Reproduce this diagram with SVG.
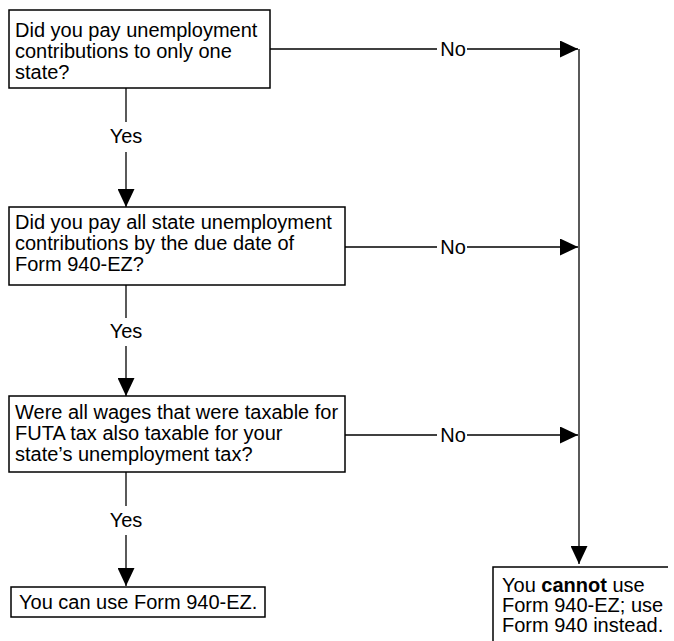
<svg xmlns="http://www.w3.org/2000/svg" width="674" height="641" viewBox="0 0 674 641">
<style>
  .box { fill: #fff; stroke: #000; stroke-width: 1.5; }
  .t { font-family: "Liberation Sans", Arial, sans-serif; font-size: 20px; fill: #000; }
  .lab { font-family: "Liberation Sans", Arial, sans-serif; font-size: 20px; fill: #000; text-anchor: middle; }
  .ln { fill: none; stroke: #000; stroke-width: 1.3; }
</style>
<defs>
  <marker id="arr" markerUnits="userSpaceOnUse" markerWidth="18" markerHeight="17" refX="18" refY="8.5" orient="auto">
    <path d="M0,0 L18,8.5 L0,17 Z" fill="#000"/>
  </marker>
</defs>
<rect width="674" height="641" fill="#fff"/>

<g id="connectors">
  <!-- Yes 1 -->
  <line class="ln" x1="126" y1="88" x2="126" y2="122"/>
  <line class="ln" x1="126" y1="152" x2="126" y2="207" marker-end="url(#arr)"/>
  <text class="lab" x="126" y="143">Yes</text>
  <!-- Yes 2 -->
  <line class="ln" x1="126" y1="285" x2="126" y2="318"/>
  <line class="ln" x1="126" y1="346" x2="126" y2="396" marker-end="url(#arr)"/>
  <text class="lab" x="126" y="338">Yes</text>
  <!-- Yes 3 -->
  <line class="ln" x1="126" y1="472" x2="126" y2="506"/>
  <line class="ln" x1="126" y1="535" x2="126" y2="586" marker-end="url(#arr)"/>
  <text class="lab" x="126" y="527">Yes</text>
  <!-- No 1 -->
  <line class="ln" x1="270" y1="49" x2="437" y2="49"/>
  <line class="ln" x1="467" y1="49" x2="578" y2="49" marker-end="url(#arr)"/>
  <text class="lab" x="453" y="56">No</text>
  <!-- No 2 -->
  <line class="ln" x1="345" y1="247" x2="437" y2="247"/>
  <line class="ln" x1="467" y1="247" x2="578" y2="247" marker-end="url(#arr)"/>
  <text class="lab" x="453" y="254">No</text>
  <!-- No 3 -->
  <line class="ln" x1="345" y1="435" x2="437" y2="435"/>
  <line class="ln" x1="467" y1="435" x2="578" y2="435" marker-end="url(#arr)"/>
  <text class="lab" x="453" y="442">No</text>
  <!-- right vertical -->
  <line class="ln" x1="579" y1="49" x2="579" y2="564" marker-end="url(#arr)"/>
</g>

<g id="q1">
  <rect class="box" x="9" y="10" width="261" height="78"/>
  <text class="t" x="15" y="37">Did you pay unemployment</text>
  <text class="t" x="15" y="58">contributions to only one</text>
  <text class="t" x="15" y="79">state?</text>
</g>

<g id="q2">
  <rect class="box" x="9" y="207" width="336" height="78"/>
  <text class="t" x="15" y="229">Did you pay all state unemployment</text>
  <text class="t" x="15" y="250">contributions by the due date of</text>
  <text class="t" x="15" y="271">Form 940-EZ?</text>
</g>

<g id="q3">
  <rect class="box" x="9" y="396" width="336" height="76"/>
  <text class="t" x="15" y="419">Were all wages that were taxable for</text>
  <text class="t" x="15" y="440">FUTA tax also taxable for your</text>
  <text class="t" x="15" y="461">state’s unemployment tax?</text>
</g>

<g id="yes-result">
  <rect class="box" x="11" y="587" width="254" height="30"/>
  <text class="t" x="19" y="609">You can use Form 940-EZ.</text>
</g>

<g id="no-result">
  <path class="ln" d="M493,641 L493,567 L668,567" style="stroke-width:1.5"/>
  <text class="t" x="502" y="592">You <tspan font-weight="bold">cannot</tspan> use</text>
  <text class="t" x="502" y="612">Form 940-EZ; use</text>
  <text class="t" x="502" y="632">Form 940 instead.</text>
</g>
</svg>
